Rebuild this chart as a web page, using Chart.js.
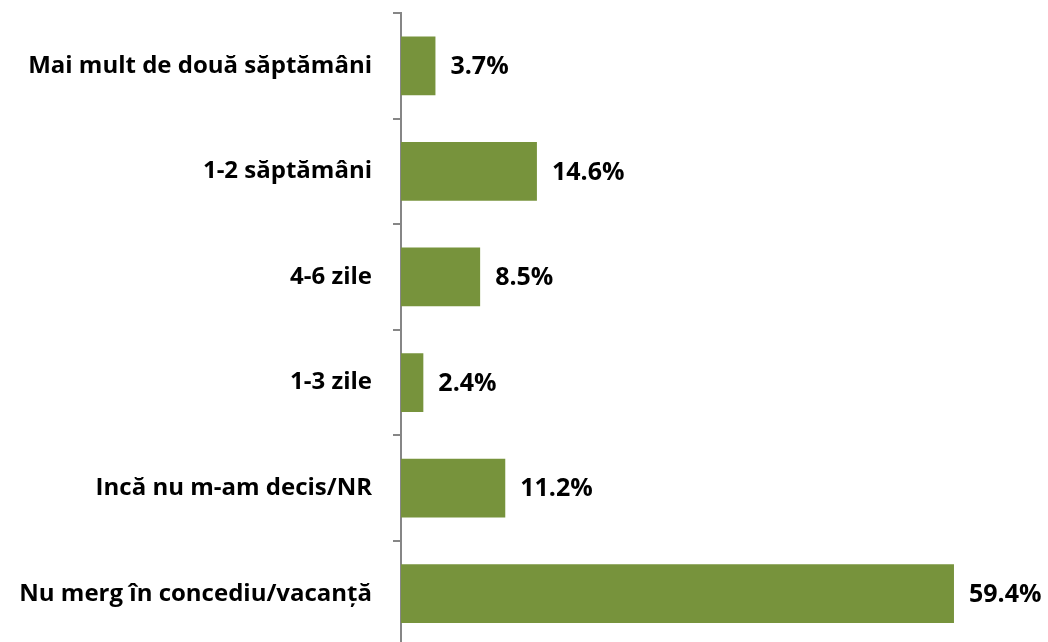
<!DOCTYPE html>
<html>
<head>
<meta charset="utf-8">
<script src="https://cdn.jsdelivr.net/npm/chart.js@4"></script>
<style>
  html, body { margin: 0; padding: 0; background: #fff; overflow: hidden; }
  #wrap { width: 1048px; height: 650px; position: relative; }
</style>
</head>
<body>
<div id="wrap"><canvas id="durata"></canvas></div>
<script>
const categories = [
  'Mai mult de două săptămâni',
  '1-2 săptămâni',
  '4-6 zile',
  '1-3 zile',
  'Incă nu m-am decis/NR',
  'Nu merg în concediu/vacanță'
];
const procente = [3.7, 14.6, 8.5, 2.4, 11.2, 59.4];

const FONT = '"Open Sans", Lato, sans-serif';

// etichete cu procentul la capatul barei
const valueLabels = {
  id: 'valueLabels',
  afterDatasetsDraw(chart) {
    const ctx = chart.ctx;
    const meta = chart.getDatasetMeta(0);
    ctx.save();
    ctx.font = 'bold 25px ' + FONT;
    ctx.fillStyle = '#000';
    ctx.textAlign = 'left';
    ctx.textBaseline = 'middle';
    meta.data.forEach((bar, i) => {
      ctx.fillText(procente[i].toFixed(1) + '%', bar.x + 15, bar.y + 1);
    });
    ctx.restore();
  }
};

new Chart(document.getElementById('durata').getContext('2d'), {
  type: 'bar',
  data: {
    labels: categories,
    datasets: [{
      data: procente,
      backgroundColor: '#77933C',
      borderWidth: 0,
      categoryPercentage: 1,
      barPercentage: 0.556
    }]
  },
  options: {
    indexAxis: 'y',
    responsive: true,
    maintainAspectRatio: false,
    animation: false,
    layout: { padding: { top: 13, bottom: 3.5, left: 0, right: 0 } },
    plugins: {
      legend: { display: false },
      tooltip: { enabled: false }
    },
    scales: {
      x: {
        display: false,
        min: 0,
        max: 69.5
      },
      y: {
        afterFit(scale) {
          scale.width = 401;
          scale.paddingTop = 0;
          scale.paddingBottom = 0;
        },
        border: { display: true, color: '#868686', width: 2 },
        grid: {
          display: true,
          offset: true,
          drawOnChartArea: false,
          drawTicks: true,
          tickLength: 8,
          color: '#868686',
          lineWidth: 2
        },
        ticks: {
          color: '#000',
          padding: 21,
          font: { family: FONT, size: 24, weight: 'bold' }
        }
      }
    }
  },
  plugins: [valueLabels]
});
</script>
</body>
</html>
